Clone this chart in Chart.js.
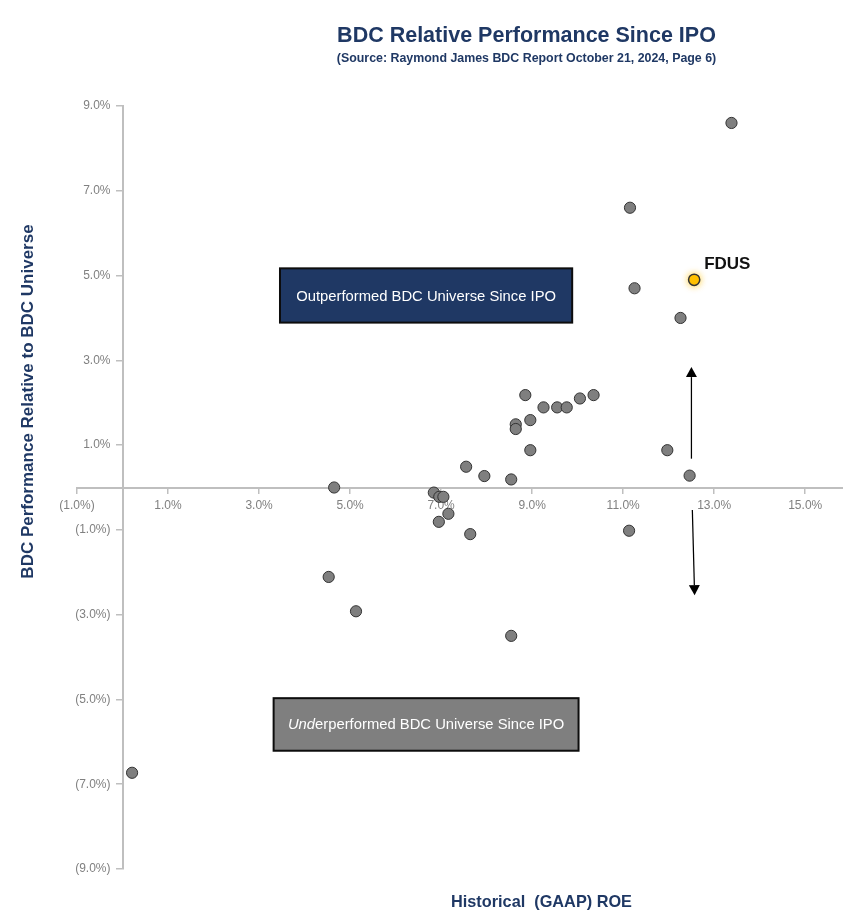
<!DOCTYPE html>
<html>
<head>
<meta charset="utf-8">
<title>BDC Relative Performance Since IPO</title>
<script src="https://cdn.jsdelivr.net/npm/chart.js@4.4.1/dist/chart.umd.min.js"></script>
<style>
  html, body { margin: 0; padding: 0; background: #ffffff; overflow: hidden; }
  canvas { display: block; }
</style>
</head>
<body>
<canvas id="chart" width="851" height="911"></canvas>
<script>
// Historical (GAAP) ROE, % — peer BDCs
const peerRoe = [
  13.38, 11.15, 11.25, 12.26, 8.85, 10.35, 10.05, 9.25, 9.55, 9.76,
  8.96, 8.64, 8.64, 8.96, 11.97, 7.55, 7.95, 8.54, 12.46, 4.65,
  6.84, 6.96, 7.05, 7.16, 6.95, 7.64, 11.13, 4.53, 5.13, 8.54, 0.21
];
// Total return relative to the BDC universe since IPO, % — same order as peerRoe
const peerRelPerf = [
  8.60, 6.60, 4.70, 4.00, 2.18, 2.18, 2.10, 1.89, 1.89, 1.89,
  1.59, 1.49, 1.38, 0.88, 0.88, 0.49, 0.27, 0.19, 0.28, 0.00,
  -0.12, -0.22, -0.22, -0.62, -0.81, -1.10, -1.02, -2.11, -2.92, -3.50, -6.73
];
// Fidus Investment Corp
const fdusRoe = [12.56];
const fdusRelPerf = [4.90];
const fdusLabel = 'FDUS';

// Axis tick values, %
const xTickValues = [-1, 1, 3, 5, 7, 9, 11, 13, 15];
const yTickValues = [-9, -7, -5, -3, -1, 1, 3, 5, 7, 9];

const NAVY = '#1F3864';
const FONT = '"Liberation Sans", Arial, Helvetica, sans-serif';
const AXIS_GREY = '#BFBFBF';
const TICK_GREY = '#808080';

function pct(v) {
  const s = Math.abs(v).toFixed(1) + '%';
  return v < 0 ? '(' + s + ')' : s;
}

function noPadding(scale) {
  scale.paddingLeft = 0;
  scale.paddingRight = 0;
  scale.paddingTop = 0;
  scale.paddingBottom = 0;
}

// Quadrant boxes, arrows, value-axis labels and titles
const overlay = {
  id: 'overlay',
  beforeDatasetsDraw(chart) {
    const {ctx, scales: {x, y}} = chart;
    const box = (x0, x1, y0, y1, fill) => {
      const l = x.getPixelForValue(x0), r = x.getPixelForValue(x1);
      const t = y.getPixelForValue(y0), b = y.getPixelForValue(y1);
      ctx.fillStyle = fill;
      ctx.fillRect(l, t, r - l, b - t);
      ctx.lineWidth = 2;
      ctx.strokeStyle = '#0d0d0d';
      ctx.strokeRect(l, t, r - l, b - t);
      return {cx: (l + r) / 2, cy: (t + b) / 2};
    };
    ctx.save();
    // Outperformed box
    const up = box(3.46, 9.88, 5.17, 3.89, NAVY);
    ctx.fillStyle = '#ffffff';
    ctx.font = '14.8px ' + FONT;
    ctx.textAlign = 'center';
    ctx.textBaseline = 'middle';
    ctx.fillText('Outperformed BDC Universe Since IPO', up.cx, up.cy + 1);

    // Underperformed box, with the "Und" prefix in italics
    const dn = box(3.32, 10.02, -4.97, -6.21, '#7F7F7F');
    const pre = 'Und', rest = 'erperformed BDC Universe Since IPO';
    ctx.font = 'italic 14.8px ' + FONT;
    const wPre = ctx.measureText(pre).width;
    ctx.font = '14.8px ' + FONT;
    const wRest = ctx.measureText(rest).width;
    const startX = dn.cx - (wPre + wRest) / 2;
    ctx.textAlign = 'left';
    ctx.fillStyle = '#ffffff';
    ctx.font = 'italic 14.8px ' + FONT;
    ctx.fillText(pre, startX, dn.cy);
    ctx.font = '14.8px ' + FONT;
    ctx.fillText(rest, startX + wPre, dn.cy);

    // Arrows either side of the x axis
    const arrow = (xa, ya, xb, yb) => {
      const x1 = x.getPixelForValue(xa), y1 = y.getPixelForValue(ya);
      const x2 = x.getPixelForValue(xb), y2 = y.getPixelForValue(yb);
      const ang = Math.atan2(y2 - y1, x2 - x1);
      const head = 10, half = 5.5;
      const bx = x2 - head * Math.cos(ang), by = y2 - head * Math.sin(ang);
      ctx.strokeStyle = '#000000';
      ctx.lineWidth = 1.25;
      ctx.beginPath();
      ctx.moveTo(x1, y1);
      ctx.lineTo(bx, by);
      ctx.stroke();
      ctx.fillStyle = '#000000';
      ctx.beginPath();
      ctx.moveTo(x2, y2);
      ctx.lineTo(bx + half * Math.sin(ang), by - half * Math.cos(ang));
      ctx.lineTo(bx - half * Math.sin(ang), by + half * Math.cos(ang));
      ctx.closePath();
      ctx.fill();
    };
    arrow(12.50, 0.68, 12.50, 2.84);
    arrow(12.52, -0.53, 12.57, -2.54);
    ctx.restore();
  },
  beforeDatasetDraw(chart, args) {
    if (args.index === 1) {
      const ctx = chart.ctx;
      ctx.save();
      ctx.shadowColor = 'rgba(255, 192, 0, 0.75)';
      ctx.shadowBlur = 7;
    }
  },
  afterDatasetDraw(chart, args) {
    if (args.index === 1) chart.ctx.restore();
  },
  afterDraw(chart) {
    const {ctx, scales: {x, y}} = chart;
    ctx.save();
    // Y tick labels, set left of the vertical axis
    const x0 = x.getPixelForValue(0);
    ctx.fillStyle = TICK_GREY;
    ctx.font = '12px ' + FONT;
    ctx.textAlign = 'right';
    ctx.textBaseline = 'middle';
    y.ticks.forEach(t => ctx.fillText(pct(t.value), x0 - 12, y.getPixelForValue(t.value)));

    // FDUS label
    const px = x.getPixelForValue(fdusRoe[0]);
    const py = y.getPixelForValue(fdusRelPerf[0]);
    ctx.fillStyle = '#111111';
    ctx.font = 'bold 17px ' + FONT;
    ctx.textAlign = 'left';
    ctx.textBaseline = 'alphabetic';
    ctx.fillText(fdusLabel, px + 10, py - 11);

    // Title and source line
    ctx.fillStyle = NAVY;
    ctx.textAlign = 'center';
    ctx.font = 'bold 21.5px ' + FONT;
    ctx.fillText('BDC Relative Performance Since IPO', 526.5, 41.5);
    ctx.font = 'bold 12.4px ' + FONT;
    ctx.fillText('(Source: Raymond James BDC Report October 21, 2024, Page 6)', 526.5, 61.5);

    // Axis titles
    ctx.font = 'bold 16.3px ' + FONT;
    ctx.fillText('Historical  (GAAP) ROE', 541.5, 906.5);
    ctx.save();
    ctx.translate(33, 401.5);
    ctx.rotate(-Math.PI / 2);
    ctx.font = 'bold 17px ' + FONT;
    ctx.fillText('BDC Performance Relative to BDC Universe', 0, 0);
    ctx.restore();
    ctx.restore();
  }
};

const tickFont = {family: FONT, size: 12};

new Chart(document.getElementById('chart'), {
  type: 'scatter',
  data: {
    datasets: [
      {
        label: 'BDC peers',
        data: peerRoe.map((v, i) => ({x: v, y: peerRelPerf[i]})),
        backgroundColor: '#7F7F7F',
        borderColor: '#333333',
        borderWidth: 1,
        pointRadius: 5.6,
        pointHoverRadius: 5.6
      },
      {
        label: fdusLabel,
        data: fdusRoe.map((v, i) => ({x: v, y: fdusRelPerf[i]})),
        backgroundColor: '#FFC000',
        borderColor: '#333333',
        borderWidth: 1.5,
        pointRadius: 5.6,
        pointHoverRadius: 5.6
      }
    ]
  },
  options: {
    responsive: false,
    animation: false,
    devicePixelRatio: 1,
    layout: {padding: {left: 77, top: 106, right: 0, bottom: 42}},
    plugins: {
      legend: {display: false},
      title: {display: false},
      tooltip: {enabled: false}
    },
    scales: {
      x: {
        type: 'linear',
        min: -1,
        max: 15.85,
        position: {y: 0},
        afterBuildTicks: s => { s.ticks = xTickValues.map(v => ({value: v})); },
        afterFit: noPadding,
        ticks: {
          callback: v => pct(v),
          font: tickFont,
          color: TICK_GREY,
          padding: 6,
          autoSkip: false,
          maxRotation: 0
        },
        grid: {drawOnChartArea: false, drawTicks: true, tickLength: 5, color: AXIS_GREY, lineWidth: 1.5},
        border: {display: true, color: AXIS_GREY, width: 2}
      },
      y: {
        type: 'linear',
        min: -9,
        max: 9,
        position: {x: 0},
        afterBuildTicks: s => { s.ticks = yTickValues.map(v => ({value: v})); },
        afterFit: noPadding,
        ticks: {display: false},
        grid: {drawOnChartArea: false, drawTicks: true, tickLength: 6, color: AXIS_GREY, lineWidth: 1.5},
        border: {display: true, color: AXIS_GREY, width: 2}
      }
    }
  },
  plugins: [overlay]
});
</script>
</body>
</html>
